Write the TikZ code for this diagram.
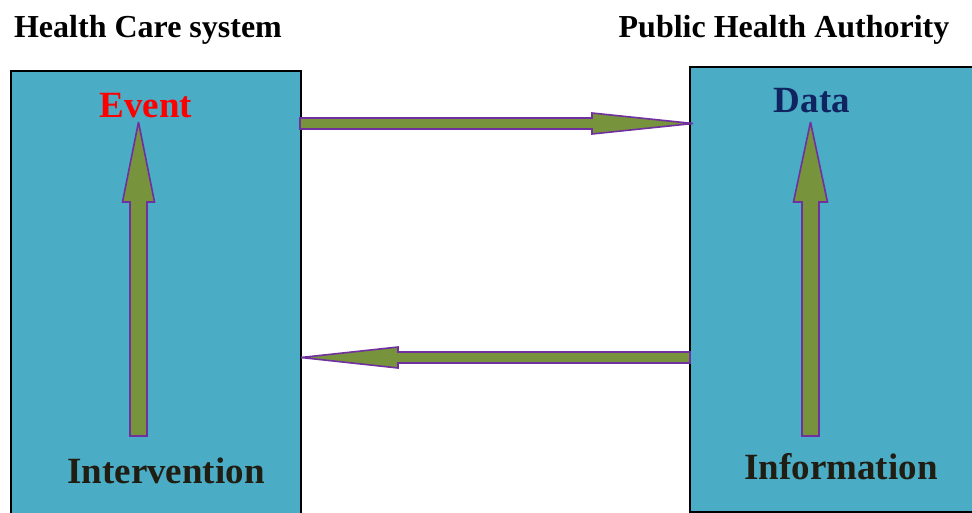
\documentclass[tikz,border=0pt]{standalone}
\usepackage{fontspec}
\setmainfont{Liberation Serif}
\usetikzlibrary{calc}
\definecolor{boxfill}{HTML}{4BACC6}
\definecolor{arrfill}{HTML}{77933C}
\definecolor{arrline}{HTML}{7030A0}
\definecolor{darktext}{HTML}{201D13}
\definecolor{navy}{HTML}{0F2460}
\tikzset{
  box/.style={draw=black, line width=2pt, fill=boxfill, rectangle, inner sep=0pt, anchor=north west},
  blockarrow/.style={draw=arrline, fill=arrfill, line width=1.6pt, line join=miter, miter limit=3},
  bigtext/.style={font=\bfseries\fontsize{37}{40}\selectfont, anchor=base, inner sep=0pt},
  titletext/.style={font=\bfseries\fontsize{32}{35}\selectfont, anchor=base, inner sep=0pt, text=black}
}
% #1 from, #2 to, #3 shaft half width, #4 head half width, #5 head length
\newcommand\myblockarrow[5]{%
  \coordinate (hb) at ($(#2)!#5pt!(#1)$);
  \draw[blockarrow]
    ($(#1)!#3pt!90:(#2)$) -- ($(hb)!#3pt!-90:(#1)$) -- ($(hb)!#4pt!-90:(#1)$) --
    (#2) -- ($(hb)!#4pt!90:(#1)$) -- ($(hb)!#3pt!90:(#1)$) -- ($(#1)!#3pt!-90:(#2)$) -- cycle;
}
\begin{document}
\begin{tikzpicture}[x=1pt,y=-1pt]
\useasboundingbox (0,0) rectangle (972,512);
\clip (0,0) rectangle (972,512);
\fill[white] (0,0) rectangle (972,512);
% boxes
\node[box, minimum width=290pt, minimum height=460pt] (L) at (10,70) {};
\node[box, minimum width=300pt, minimum height=445pt] (R) at (689,66) {};
% titles
\node[titletext] (t1) at (148,37) {Health Care system};
\node[titletext] (t2) at (784,37) {Public Health Authority};
% box texts
\node[bigtext, text=red] (ev) at (146,117) {Event};
\node[bigtext, text=navy] (da) at (812,112) {Data};
\node[bigtext, text=darktext] (iv) at (166,483) {Intervention};
\node[bigtext, text=darktext] (inf) at (841,479) {Information};
% arrow end points
\coordinate (a1s) at (300,123.5);
\coordinate (a1e) at (693,123.5);
\coordinate (a2s) at (690,357.5);
\coordinate (a2e) at (301,357.5);
\coordinate (v1s) at (138.5,436);
\coordinate (v1e) at (138.5,122);
\coordinate (v2s) at (810.5,436);
\coordinate (v2e) at (810.5,122);
% arrows
\myblockarrow{a1s}{a1e}{5.5}{10.5}{101}
\myblockarrow{a2s}{a2e}{5.5}{10.5}{97}
\myblockarrow{v1s}{v1e}{8.5}{16}{80}
\myblockarrow{v2s}{v2e}{8.5}{17}{80}
\end{tikzpicture}
\end{document}
